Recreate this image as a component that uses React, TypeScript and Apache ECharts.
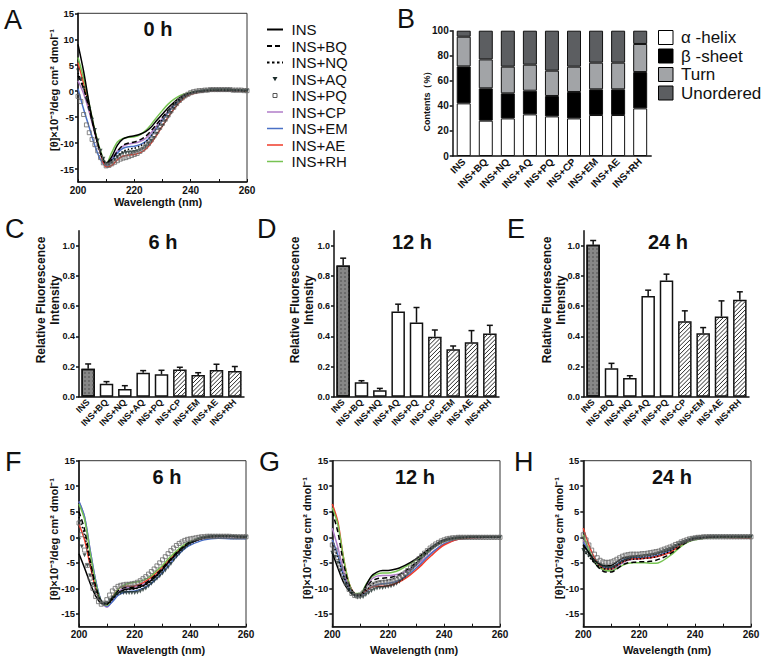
import React, { useEffect, useRef } from 'react';
import * as echarts from 'echarts';

const FONT = '"Liberation Sans", Arial, Helvetica, sans-serif';
const INK = '#111111';

const CATEGORIES = ['INS', 'INS+BQ', 'INS+NQ', 'INS+AQ', 'INS+PQ', 'INS+CP', 'INS+EM', 'INS+AE', 'INS+RH'];

// wavelengths (nm)
const WL = [200, 202, 204, 206, 208, 210, 212, 214, 216, 218, 220, 222, 224, 226, 228, 230, 232, 234, 236, 238, 240, 245, 250, 255, 260];
const WL1 = [
  200, 201, 202, 203, 204, 205, 206, 207, 208, 209,
  210, 211, 212, 213, 214, 215, 216, 217, 218, 219,
  220, 221, 222, 223, 224, 225, 226, 227, 228, 229,
  230, 231, 232, 233, 234, 235, 236, 237, 238, 239,
  240, 241, 242, 243, 244, 245, 246, 247, 248, 249,
  250, 251, 252, 253, 254, 255, 256, 257, 258, 259, 260,
];

// ---- Panel A (0 h) ----
const A_INS = [9.0, 3.8, -2.5, -7.8, -11.8, -13.9, -12.6, -10.4, -9.2, -8.8, -8.6, -8.3, -7.8, -6.9, -5.6, -4.4, -3.2, -2.2, -1.3, -0.7, -0.3, 0.1, 0.2, 0.2, 0.1];
const A_BQ = [3.0, 0.5, -3.5, -8.0, -12.0, -14.0, -13.2, -11.6, -10.4, -10.0, -9.8, -9.4, -8.7, -7.6, -6.3, -5.0, -3.7, -2.5, -1.5, -0.8, -0.4, 0.0, 0.1, 0.1, 0.0];
const A_NQ = [3.5, 0.8, -3.2, -7.8, -11.8, -14.0, -13.8, -12.6, -11.6, -11.2, -11.0, -10.6, -9.8, -8.6, -7.0, -5.5, -4.0, -2.7, -1.6, -0.9, -0.4, 0.0, 0.1, 0.1, 0.0];
const A_CP = [2.0, -0.5, -4.0, -8.2, -12.0, -13.9, -13.0, -11.5, -10.6, -10.2, -10.0, -9.7, -9.1, -8.0, -6.6, -5.2, -3.8, -2.6, -1.6, -0.9, -0.4, 0.0, 0.1, 0.1, 0.0];
const A_EM = [0.5, -3.5, -7.0, -10.5, -13.2, -14.4, -13.3, -11.9, -11.0, -10.7, -10.6, -10.3, -9.7, -8.6, -7.1, -5.6, -4.1, -2.8, -1.8, -1.0, -0.5, 0.0, 0.1, 0.1, 0.0];
const A_AE = [5.5, 1.5, -3.0, -7.8, -12.0, -14.6, -14.3, -13.2, -12.5, -12.3, -12.2, -11.9, -11.2, -10.0, -8.4, -6.7, -5.0, -3.5, -2.2, -1.2, -0.6, 0.0, 0.1, 0.1, 0.0];
const A_RH = [6.5, 2.5, -2.5, -7.5, -11.5, -14.0, -11.8, -9.8, -9.1, -8.9, -8.8, -8.4, -7.6, -6.4, -5.0, -3.7, -2.5, -1.6, -0.9, -0.5, -0.2, 0.1, 0.2, 0.2, 0.1];
const A_AQ = [
  4.0, 2.3, 0.5, -1.5, -3.5, -5.5, -7.5, -9.5, -11.5, -13.0,
  -14.0, -14.2, -13.8, -13.2, -12.7, -12.3, -12.0, -11.9, -11.8, -11.8,
  -11.7, -11.6, -11.4, -11.1, -10.7, -10.2, -9.6, -9.0, -8.2, -7.4,
  -6.6, -5.8, -5.0, -4.2, -3.4, -2.7, -2.0, -1.5, -1.1, -0.8,
  -0.5, -0.3, -0.2, -0.1, 0.0, 0.1, 0.1, 0.2, 0.2, 0.2,
  0.2, 0.2, 0.2, 0.2, 0.2, 0.1, 0.1, 0.1, 0.1, 0.1, 0.1,
];
const A_PQ = [
  -1.0, -2.0, -4.5, -6.5, -8.0, -9.3, -10.3, -11.5, -12.8, -13.8,
  -14.4, -14.3, -14.0, -13.7, -13.4, -13.1, -12.9, -12.8, -12.6, -12.4,
  -12.2, -12.0, -11.6, -11.2, -10.7, -10.1, -9.4, -8.6, -7.8, -7.0,
  -6.2, -5.4, -4.6, -3.8, -3.1, -2.4, -1.8, -1.3, -0.9, -0.6,
  -0.3, -0.1, 0.0, 0.1, 0.1, 0.2, 0.2, 0.3, 0.3, 0.3,
  0.3, 0.3, 0.3, 0.3, 0.3, 0.2, 0.2, 0.2, 0.2, 0.1, 0.1,
];

// ---- Panel F (6 h) ----
const F_INS = [-3.2, -6.0, -9.0, -11.5, -12.9, -13.0, -12.0, -10.9, -10.3, -10.1, -10.0, -9.7, -9.2, -8.4, -7.4, -6.3, -5.0, -3.8, -2.7, -1.8, -1.1, -0.1, 0.3, 0.2, 0.1];
const F_BQ = [5.0, 1.5, -4.5, -9.5, -12.5, -13.0, -11.8, -10.5, -9.9, -9.8, -9.7, -9.4, -8.9, -8.1, -7.1, -6.0, -4.8, -3.6, -2.5, -1.6, -0.9, -0.1, 0.2, 0.2, 0.1];
const F_NQ = [4.0, 0.5, -5.0, -10.0, -12.8, -13.1, -12.2, -11.0, -10.4, -10.2, -10.1, -9.8, -9.3, -8.5, -7.5, -6.4, -5.1, -3.9, -2.8, -1.8, -1.1, -0.1, 0.2, 0.2, 0.1];
const F_CP = [7.0, 4.0, -2.5, -8.5, -12.5, -13.7, -12.5, -10.8, -10.0, -9.8, -9.7, -9.4, -9.0, -8.3, -7.3, -6.2, -5.0, -3.8, -2.7, -1.8, -1.1, -0.2, 0.1, 0.1, 0.0];
const F_EM = [7.0, 4.0, -2.5, -8.5, -12.5, -13.5, -12.6, -11.4, -10.8, -10.6, -10.5, -10.2, -9.7, -9.0, -8.0, -6.9, -5.6, -4.4, -3.2, -2.2, -1.5, -0.5, -0.2, -0.3, -0.3];
const F_AE = [2.5, -0.5, -5.5, -10.0, -12.6, -13.2, -11.8, -10.2, -9.6, -9.6, -9.5, -9.2, -8.6, -7.8, -6.9, -5.8, -4.6, -3.5, -2.5, -1.6, -1.0, -0.1, 0.2, 0.2, 0.1];
const F_RH = [6.5, 3.5, -3.0, -9.0, -12.6, -13.3, -11.9, -10.2, -9.4, -9.0, -8.8, -8.6, -8.2, -7.5, -6.5, -5.5, -4.3, -3.2, -2.2, -1.4, -0.8, 0.0, 0.2, 0.2, 0.1];
const F_AQ = [
  -0.5, -1.8, -3.5, -5.5, -7.5, -9.2, -10.8, -12.0, -12.8, -13.0,
  -12.8, -12.3, -11.8, -11.4, -11.1, -10.9, -10.9, -10.9, -10.9, -10.9,
  -10.9, -10.8, -10.6, -10.3, -10.0, -9.6, -9.1, -8.6, -8.1, -7.6,
  -7.1, -6.5, -5.9, -5.2, -4.5, -3.8, -3.2, -2.6, -2.1, -1.6,
  -1.2, -0.9, -0.6, -0.4, -0.2, -0.1, 0.0, 0.1, 0.1, 0.1,
  0.1, 0.1, 0.1, 0.1, 0.1, 0.1, 0.1, 0.0, 0.0, 0.0, 0.0,
];
const F_PQ = [
  2.8, 0.5, -2.5, -5.5, -8.0, -10.0, -11.6, -12.6, -13.1, -12.9,
  -12.2, -11.3, -10.5, -10.0, -9.6, -9.4, -9.3, -9.2, -9.2, -9.1,
  -9.0, -8.8, -8.5, -8.1, -7.7, -7.2, -6.7, -6.2, -5.6, -5.0,
  -4.4, -3.8, -3.2, -2.6, -2.1, -1.6, -1.2, -0.9, -0.6, -0.4,
  -0.3, -0.2, -0.1, 0.0, 0.1, 0.1, 0.2, 0.2, 0.2, 0.2,
  0.2, 0.2, 0.2, 0.2, 0.2, 0.1, 0.1, 0.1, 0.1, 0.1, 0.1,
];

// ---- Panel G (12 h) ----
const G_INS = [-3.0, -6.0, -8.8, -10.5, -11.3, -11.3, -9.5, -7.6, -6.8, -6.5, -6.5, -6.3, -6.0, -5.5, -4.9, -4.2, -3.4, -2.5, -1.7, -1.0, -0.5, -0.1, 0.0, 0.0, 0.0];
const G_BQ = [5.0, 1.0, -5.0, -9.3, -11.0, -11.2, -10.0, -8.6, -8.1, -8.0, -7.9, -7.7, -7.3, -6.6, -5.8, -4.9, -3.9, -2.9, -2.0, -1.3, -0.7, -0.1, 0.0, 0.0, 0.0];
const G_NQ = [-1.0, -4.0, -7.5, -10.0, -11.2, -11.4, -10.5, -9.3, -8.7, -8.5, -8.4, -8.1, -7.6, -6.9, -6.0, -5.0, -3.9, -2.9, -2.0, -1.2, -0.7, -0.1, 0.0, 0.0, 0.0];
const G_CP = [1.8, -2.0, -6.5, -9.8, -11.2, -11.2, -9.8, -8.2, -7.6, -7.5, -7.5, -7.4, -7.2, -6.8, -6.2, -5.5, -4.6, -3.7, -2.8, -2.0, -1.3, -0.4, -0.1, 0.0, 0.0];
const G_EM = [-0.5, -3.5, -7.5, -10.2, -11.3, -11.5, -10.8, -9.8, -9.3, -9.1, -9.0, -8.8, -8.4, -7.8, -7.0, -6.0, -5.0, -3.9, -2.9, -2.0, -1.3, -0.3, 0.0, 0.0, 0.0];
const G_AE = [6.5, 3.0, -4.0, -9.0, -11.0, -11.2, -10.5, -9.8, -9.6, -9.6, -9.5, -9.2, -8.7, -8.1, -7.3, -6.4, -5.4, -4.3, -3.3, -2.3, -1.5, -0.4, -0.1, 0.0, 0.0];
const G_RH = [5.8, 2.5, -4.0, -9.0, -11.0, -11.0, -9.3, -7.8, -7.2, -7.0, -7.0, -6.8, -6.4, -5.8, -5.1, -4.4, -3.6, -2.8, -2.0, -1.3, -0.8, -0.2, 0.0, 0.0, 0.0];
const G_AQ = [
  -3.0, -3.8, -5.0, -6.5, -8.0, -9.3, -10.3, -11.0, -11.5, -11.8,
  -11.8, -11.7, -11.3, -10.9, -10.5, -10.2, -10.0, -9.9, -9.9, -9.8,
  -9.7, -9.6, -9.4, -9.1, -8.7, -8.2, -7.7, -7.1, -6.5, -5.9,
  -5.3, -4.7, -4.1, -3.6, -3.1, -2.6, -2.1, -1.7, -1.3, -1.0,
  -0.7, -0.5, -0.4, -0.3, -0.2, -0.1, -0.1, -0.1, -0.1, 0.0,
  0.0, 0.0, 0.0, 0.0, 0.0, 0.0, 0.0, 0.0, 0.0, 0.0, 0.0,
];
const G_PQ = [
  -1.5, -2.5, -4.0, -5.8, -7.5, -9.0, -10.2, -11.0, -11.4, -11.5,
  -11.3, -10.9, -10.4, -9.9, -9.5, -9.2, -9.0, -8.9, -8.8, -8.8,
  -8.7, -8.6, -8.4, -8.1, -7.8, -7.4, -7.0, -6.5, -6.0, -5.4,
  -4.8, -4.2, -3.6, -3.1, -2.6, -2.1, -1.7, -1.3, -1.0, -0.7,
  -0.5, -0.3, -0.2, -0.1, -0.1, 0.0, 0.0, 0.0, 0.0, 0.0,
  0.0, 0.0, 0.0, 0.0, 0.0, 0.0, 0.0, 0.0, 0.0, 0.0, 0.0,
];

// ---- Panel H (24 h) ----
const H_INS = [-1.5, -3.0, -4.5, -5.3, -5.6, -5.5, -4.8, -4.1, -3.8, -3.7, -3.6, -3.5, -3.4, -3.2, -2.9, -2.6, -2.1, -1.5, -1.0, -0.5, -0.2, 0.0, 0.1, 0.1, 0.1];
const H_BQ = [-1.5, -3.2, -5.0, -6.2, -6.8, -6.8, -6.2, -5.4, -5.0, -4.9, -4.8, -4.8, -4.7, -4.5, -4.1, -3.6, -2.9, -2.1, -1.3, -0.7, -0.3, 0.0, 0.1, 0.1, 0.1];
const H_NQ = [-2.5, -3.8, -5.0, -5.8, -6.2, -6.2, -5.5, -4.8, -4.4, -4.3, -4.2, -4.1, -4.0, -3.8, -3.4, -3.0, -2.4, -1.7, -1.1, -0.6, -0.3, 0.0, 0.1, 0.1, 0.1];
const H_CP = [-0.5, -2.8, -4.8, -6.0, -6.5, -6.5, -5.8, -5.0, -4.5, -4.3, -4.2, -4.1, -4.0, -3.8, -3.5, -3.1, -2.5, -1.9, -1.2, -0.7, -0.3, 0.0, 0.1, 0.0, 0.0];
const H_EM = [-1.0, -2.8, -4.5, -5.5, -6.0, -6.0, -5.3, -4.5, -4.2, -4.0, -4.0, -3.9, -3.8, -3.6, -3.3, -2.9, -2.4, -1.8, -1.2, -0.7, -0.3, 0.0, 0.1, 0.1, 0.0];
const H_AE = [1.8, -1.5, -4.0, -5.6, -6.2, -6.2, -5.5, -4.8, -4.4, -4.2, -4.2, -4.1, -4.0, -3.8, -3.5, -3.2, -2.6, -1.9, -1.2, -0.7, -0.3, 0.0, 0.0, -0.1, -0.2];
const H_RH = [0.5, -2.5, -4.8, -6.0, -6.5, -6.6, -6.1, -5.5, -5.1, -5.0, -5.0, -5.0, -5.1, -5.1, -4.7, -4.0, -3.2, -2.2, -1.4, -0.8, -0.5, -0.1, 0.0, 0.0, 0.0];
const H_AQ = [
  -2.5, -3.0, -3.6, -4.1, -4.6, -5.0, -5.4, -5.7, -5.9, -6.0,
  -6.0, -5.8, -5.5, -5.1, -4.8, -4.5, -4.3, -4.1, -4.0, -3.9,
  -3.8, -3.8, -3.7, -3.6, -3.5, -3.4, -3.3, -3.1, -2.9, -2.7,
  -2.5, -2.3, -2.0, -1.7, -1.4, -1.1, -0.9, -0.7, -0.5, -0.3,
  -0.2, -0.1, 0.0, 0.0, 0.0, 0.1, 0.1, 0.1, 0.1, 0.1,
  0.1, 0.1, 0.1, 0.1, 0.1, 0.1, 0.1, 0.1, 0.1, 0.1, 0.1,
];
const H_PQ = [
  0.5, -0.5, -1.5, -2.5, -3.3, -4.0, -4.5, -4.8, -4.9, -4.9,
  -4.8, -4.6, -4.3, -4.0, -3.7, -3.5, -3.4, -3.3, -3.3, -3.3,
  -3.3, -3.2, -3.2, -3.1, -3.0, -2.9, -2.8, -2.7, -2.5, -2.3,
  -2.1, -1.9, -1.7, -1.4, -1.2, -0.9, -0.7, -0.5, -0.3, -0.2,
  -0.1, 0.0, 0.0, 0.1, 0.1, 0.1, 0.1, 0.1, 0.1, 0.1,
  0.1, 0.1, 0.1, 0.1, 0.1, 0.1, 0.1, 0.1, 0.1, 0.1, 0.1,
];

// ---- Panel B: secondary structure contents (%) ----
const HELIX = [42, 28.2, 30, 33.2, 31.6, 30, 32.7, 32.7, 38];
const SHEET = [29.5, 25.8, 20, 18.9, 16.3, 21.1, 20.5, 20.5, 29];
const TURN = [23.7, 23.1, 21.3, 20.8, 20.2, 20.2, 21.3, 21.3, 22.4];
const UNORDERED = [4.8, 22.9, 28.7, 27.1, 31.9, 28.7, 25.5, 25.5, 10.6];

// ---- Panels C, D, E: relative fluorescence intensity (mean, SD) ----
const C_MEAN = [0.186, 0.086, 0.051, 0.159, 0.148, 0.181, 0.144, 0.177, 0.170];
const C_SD = [0.031, 0.014, 0.022, 0.014, 0.027, 0.014, 0.015, 0.038, 0.030];
const D_MEAN = [0.869, 0.095, 0.042, 0.564, 0.491, 0.398, 0.314, 0.360, 0.418];
const D_SD = [0.049, 0.011, 0.013, 0.049, 0.100, 0.044, 0.022, 0.078, 0.055];
const E_MEAN = [1.007, 0.188, 0.124, 0.668, 0.770, 0.500, 0.420, 0.531, 0.642];
const E_SD = [0.028, 0.033, 0.015, 0.038, 0.042, 0.069, 0.038, 0.104, 0.053];

const LINE_DEFS = [
  { key: 'CP', color: '#b17dc8', dash: 'solid' as any },
  { key: 'EM', color: '#4a70c6', dash: 'solid' as any },
  { key: 'AE', color: '#ef3b2a', dash: 'solid' as any },
  { key: 'RH', color: '#77c352', dash: 'solid' as any },
  { key: 'INS', color: '#000000', dash: 'solid' as any },
  { key: 'BQ', color: '#000000', dash: [5, 3] as any },
  { key: 'NQ', color: '#000000', dash: [1.5, 2] as any },
];

const AXIS_LINE = { color: INK, width: 1.5 };
const TICK_FONT = { fontFamily: FONT, fontWeight: 'bold' as any, color: INK };
const BAR_W = 13.5;

function cdPanel(opt: any, g: any, d: any) {
  const gi = opt.grid.length;
  opt.grid.push({ left: g.left, top: g.top, width: g.width, height: g.height, show: true, borderColor: '#333', borderWidth: 1 });
  opt.grid.push({ left: g.left, top: g.top, width: g.width, height: (g.height * 30) / 32.5 });
  opt.xAxis.push({
    gridIndex: gi, type: 'value', min: 200, max: 260, interval: 10,
    axisLine: { show: true, onZero: false, lineStyle: AXIS_LINE },
    axisTick: { show: true, inside: true, length: 3, lineStyle: { color: INK, width: 1 } },
    axisLabel: { ...TICK_FONT, fontSize: 10, margin: 3, formatter: (v: number) => (v % 20 === 0 ? String(v) : '') },
    splitLine: { show: false },
  });
  opt.yAxis.push({
    gridIndex: gi, type: 'value', min: -17.5, max: 15,
    axisLine: { show: true, onZero: false, lineStyle: AXIS_LINE },
    axisTick: { show: false }, axisLabel: { show: false }, splitLine: { show: false },
  });
  opt.xAxis.push({ gridIndex: gi + 1, type: 'value', min: 0, max: 1, show: false });
  opt.yAxis.push({
    gridIndex: gi + 1, type: 'value', min: -15, max: 15, interval: 5,
    axisLine: { show: false },
    axisTick: { show: true, length: 3, lineStyle: { color: INK, width: 1.5 } },
    axisLabel: { ...TICK_FONT, fontSize: 9.5, margin: 4 },
    splitLine: { show: false },
  });
  LINE_DEFS.forEach((L) => {
    opt.series.push({
      type: 'line', xAxisIndex: gi, yAxisIndex: gi, showSymbol: false, smooth: 0.3,
      data: WL.map((x, i) => [x, d[L.key][i]]),
      lineStyle: { color: L.color, width: 1.5, type: L.dash },
      itemStyle: { color: L.color }, z: 2,
    });
  });
  opt.series.push({
    type: 'scatter', xAxisIndex: gi, yAxisIndex: gi, symbol: 'triangle', symbolRotate: 180, symbolSize: 4,
    data: WL1.map((x, i) => [x, d.AQ[i]]), itemStyle: { color: '#1c2d2b' }, z: 3,
  });
  opt.series.push({
    type: 'scatter', xAxisIndex: gi, yAxisIndex: gi, symbol: 'rect', symbolSize: 4,
    data: WL1.map((x, i) => [x, d.PQ[i]]),
    itemStyle: { color: 'rgba(255,255,255,0)', borderColor: '#6a6a6a', borderWidth: 1 }, z: 3,
  });
}

const CHECK = { symbol: 'rect', symbolSize: 1, dashArrayX: [2, 2], dashArrayY: [2, 2], color: '#6b6b6b' };

function barStyle(i: number) {
  const base = { borderColor: INK, borderWidth: 1.5 };
  if (i === 0) return { ...base, color: '#878787', decal: CHECK };
  return { ...base, color: '#ffffff' };
}

function barPanel(opt: any, g: any, mean: number[], sd: number[]) {
  const gi = opt.grid.length;
  opt.grid.push({ left: g.left, top: g.top, width: g.width, height: g.height });
  opt.grid.push({ left: g.left, top: g.top + (g.height * 0.1) / 1.1, width: g.width, height: g.height / 1.1 });
  opt.xAxis.push({
    gridIndex: gi, type: 'category', data: CATEGORIES,
    axisLine: { show: true, lineStyle: AXIS_LINE }, axisTick: { show: false },
    axisLabel: { ...TICK_FONT, fontSize: 9, rotate: 45, interval: 0, margin: 4 },
  });
  opt.yAxis.push({
    gridIndex: gi, type: 'value', min: 0, max: 1.1,
    axisLine: { show: true, lineStyle: AXIS_LINE }, axisTick: { show: false }, axisLabel: { show: false }, splitLine: { show: false },
  });
  opt.xAxis.push({ gridIndex: gi + 1, type: 'value', min: 0, max: 1, show: false });
  opt.yAxis.push({
    gridIndex: gi + 1, type: 'value', min: 0, max: 1, interval: 0.2,
    axisLine: { show: false }, axisTick: { show: true, length: 3, lineStyle: { color: INK, width: 1.5 } },
    axisLabel: { ...TICK_FONT, fontSize: 9, margin: 4, formatter: (v: number) => v.toFixed(1) }, splitLine: { show: false },
  });
  opt.series.push({
    type: 'bar', xAxisIndex: gi, yAxisIndex: gi, barWidth: BAR_W,
    data: mean.map((v, i) => ({ value: v, itemStyle: barStyle(i) })),
  });
  // diagonal hatching (////) inside the last four bars
  opt.series.push({
    type: 'custom', xAxisIndex: gi, yAxisIndex: gi, z: 4, silent: true,
    data: mean.map((v, i) => [i, v]).filter((p) => p[0] >= 5),
    encode: { x: 0, y: 1 },
    renderItem: (params: any, api: any) => {
      const b = api.coord([api.value(0), 0]);
      const t = api.coord([api.value(0), api.value(1)]);
      const half = BAR_W / 2 - 0.6;
      const x0 = b[0] - half, x1 = b[0] + half, yb = b[1] - 0.6, yt = t[1] + 0.6;
      const h = yb - yt;
      const children: any[] = [];
      for (let c = x0 - h; c < x1; c += 4.2) {
        const s0 = Math.max(0, x0 - c);
        const s1 = Math.min(h, x1 - c);
        if (s1 > s0) {
          children.push({ type: 'line', shape: { x1: c + s0, y1: yb - s0, x2: c + s1, y2: yb - s1 }, style: { stroke: '#2a2a2a', lineWidth: 1 } });
        }
      }
      return { type: 'group', children };
    },
  });
  opt.series.push({
    type: 'custom', xAxisIndex: gi, yAxisIndex: gi, z: 5, silent: true,
    data: mean.map((v, i) => [i, v, v + sd[i]]),
    encode: { x: 0, y: [1, 2] },
    renderItem: (params: any, api: any) => {
      const p0 = api.coord([api.value(0), api.value(1)]);
      const p1 = api.coord([api.value(0), api.value(2)]);
      const st = { stroke: INK, lineWidth: 1.5 };
      return {
        type: 'group',
        children: [
          { type: 'line', shape: { x1: p0[0], y1: p0[1], x2: p1[0], y2: p1[1] }, style: st },
          { type: 'line', shape: { x1: p1[0] - 3, y1: p1[1], x2: p1[0] + 3, y2: p1[1] }, style: st },
        ],
      };
    },
  });
}

function structurePanel(opt: any) {
  const gi = opt.grid.length;
  opt.grid.push({ left: 452.7, top: 30.7, width: 198.5, height: 125.3 });
  opt.xAxis.push({
    gridIndex: gi, type: 'category', data: CATEGORIES,
    axisLine: { show: true, lineStyle: AXIS_LINE }, axisTick: { show: false },
    axisLabel: { ...TICK_FONT, fontSize: 10, rotate: 45, interval: 0, margin: 4 },
  });
  opt.yAxis.push({
    gridIndex: gi, type: 'value', min: 0, max: 100, interval: 20,
    axisLine: { show: true, lineStyle: AXIS_LINE },
    axisTick: { show: true, length: 3, lineStyle: { color: INK, width: 1.5 } },
    axisLabel: { ...TICK_FONT, fontSize: 10, margin: 4 }, splitLine: { show: false },
  });
  const parts = [
    { data: HELIX, color: '#ffffff' },
    { data: SHEET, color: '#000000' },
    { data: TURN, color: '#a2a4a7' },
    { data: UNORDERED, color: '#5c5e61' },
  ];
  parts.forEach((p) => {
    opt.series.push({
      type: 'bar', stack: 'ss', xAxisIndex: gi, yAxisIndex: gi, barWidth: 14,
      data: p.data, itemStyle: { color: p.color, borderColor: INK, borderWidth: 1 },
    });
  });
}

function txt(x: number, y: number, text: string, fontSize: number, fontWeight: any, extra: any = {}) {
  const align = extra.align || 'center';
  const style: any = {
    text, fontSize, fontWeight, fontFamily: FONT, fill: INK,
    align, textAlign: align, verticalAlign: 'middle', textVerticalAlign: 'middle',
  };
  if (extra.lineHeight) style.lineHeight = extra.lineHeight;
  return { type: 'text', x, y, rotation: extra.rotation || 0, z: 20, style };
}

function graphics() {
  const out: any[] = [];
  const letters: [string, number, number][] = [
    ['A', 4, 20], ['B', 397, 19], ['C', 5, 229], ['D', 257, 229], ['E', 507, 229],
    ['F', 5, 462], ['G', 259, 462], ['H', 514, 462],
  ];
  letters.forEach(([t, x, y]) => out.push(txt(x, y, t, 27, 'normal', { align: 'left' })));
  const titles: [string, number, number][] = [
    ['0 h', 158, 29], ['6 h', 163, 242], ['12 h', 412, 242], ['24 h', 668, 242],
    ['6 h', 167, 477], ['12 h', 415, 477], ['24 h', 672, 477],
  ];
  titles.forEach(([t, x, y]) => out.push(txt(x, y, t, 20, 'bold')));
  const wl: [number, number][] = [[158, 202], [161, 650], [414, 650], [667, 650]];
  wl.forEach(([x, y]) => out.push(txt(x, y, 'Wavelength (nm)', 11, 'bold')));
  const yn: [number, number][] = [[53.5, 90], [53.5, 539], [307, 538], [558.5, 538]];
  yn.forEach(([x, y]) => out.push(txt(x, y, '[θ]×10⁻³/deg cm² dmol⁻¹', 11, 'bold', { rotation: Math.PI / 2 })));
  const fl: [number, number][] = [[48, 300], [302, 300], [554, 300]];
  fl.forEach(([x, y]) => out.push(txt(x, y, 'Relative Fluorescence\nIntensity', 12, 'bold', { rotation: Math.PI / 2, lineHeight: 14 })));
  out.push(txt(427, 99, 'Contents（%）', 9, 'bold', { rotation: Math.PI / 2 }));

  // Legend for panel A
  const names = ['INS', 'INS+BQ', 'INS+NQ', 'INS+AQ', 'INS+PQ', 'INS+CP', 'INS+EM', 'INS+AE', 'INS+RH'];
  const styles: any[] = [
    { stroke: '#000', lineWidth: 2 },
    { stroke: '#000', lineWidth: 2, lineDash: [5, 3] },
    { stroke: '#000', lineWidth: 2, lineDash: [2.5, 2.5] },
    null, null,
    { stroke: '#b17dc8', lineWidth: 1.5 },
    { stroke: '#4a70c6', lineWidth: 1.5 },
    { stroke: '#ef3b2a', lineWidth: 1.5 },
    { stroke: '#77c352', lineWidth: 1.5 },
  ];
  names.forEach((n, i) => {
    const y = 29.5 + i * 16.5;
    if (i === 3) {
      out.push({ type: 'polygon', shape: { points: [[272.5, y - 2], [277.5, y - 2], [275, y + 2.2]] }, style: { fill: '#1c2d2b' } });
    } else if (i === 4) {
      out.push({ type: 'rect', shape: { x: 273, y: y - 2, width: 4, height: 4 }, style: { fill: 'none', stroke: '#555', lineWidth: 1 } });
    } else {
      out.push({ type: 'line', shape: { x1: 267, y1: y, x2: 283, y2: y }, style: styles[i] });
    }
    out.push(txt(291.5, y, n, 15, 'normal', { align: 'left' }));
  });

  // Legend for panel B
  const bl = [
    { t: 'α -helix', c: '#ffffff' },
    { t: 'β -sheet', c: '#000000' },
    { t: 'Turn', c: '#a2a4a7' },
    { t: 'Unordered', c: '#5c5e61' },
  ];
  bl.forEach((b, i) => {
    const y = 37.5 + i * 18.5;
    out.push({ type: 'rect', shape: { x: 658.5, y: y - 7, width: 14.5, height: 14 }, style: { fill: b.c, stroke: '#000', lineWidth: 1 } });
    out.push(txt(681, y, b.t, 17, 'normal', { align: 'left' }));
  });
  return out;
}

function buildOption() {
  const opt: any = { animation: false, backgroundColor: '#ffffff', grid: [], xAxis: [], yAxis: [], series: [] };
  cdPanel(opt, { left: 78, top: 13.3, width: 169, height: 168.7 },
    { INS: A_INS, BQ: A_BQ, NQ: A_NQ, AQ: A_AQ, PQ: A_PQ, CP: A_CP, EM: A_EM, AE: A_AE, RH: A_RH });
  cdPanel(opt, { left: 79, top: 460.7, width: 167, height: 166 },
    { INS: F_INS, BQ: F_BQ, NQ: F_NQ, AQ: F_AQ, PQ: F_PQ, CP: F_CP, EM: F_EM, AE: F_AE, RH: F_RH });
  cdPanel(opt, { left: 332.3, top: 460.7, width: 167.7, height: 166 },
    { INS: G_INS, BQ: G_BQ, NQ: G_NQ, AQ: G_AQ, PQ: G_PQ, CP: G_CP, EM: G_EM, AE: G_AE, RH: G_RH });
  cdPanel(opt, { left: 583.3, top: 460.7, width: 167.7, height: 166 },
    { INS: H_INS, BQ: H_BQ, NQ: H_NQ, AQ: H_AQ, PQ: H_PQ, CP: H_CP, EM: H_EM, AE: H_AE, RH: H_RH });
  structurePanel(opt);
  barPanel(opt, { left: 79, top: 230.7, width: 165, height: 166 }, C_MEAN, C_SD);
  barPanel(opt, { left: 334, top: 230.7, width: 165, height: 166 }, D_MEAN, D_SD);
  barPanel(opt, { left: 584, top: 230.7, width: 165, height: 166 }, E_MEAN, E_SD);
  opt.graphic = graphics();
  return opt;
}

export default function App() {
  const ref = useRef<HTMLDivElement>(null);
  useEffect(() => {
    if (!ref.current) return;
    const chart = echarts.init(ref.current, null, { renderer: 'svg' });
    chart.setOption(buildOption());
    return () => chart.dispose();
  }, []);
  return <div ref={ref} style={{ position: 'absolute', left: 0, top: 0, width: 766, height: 661, background: '#fff' }} />;
}
